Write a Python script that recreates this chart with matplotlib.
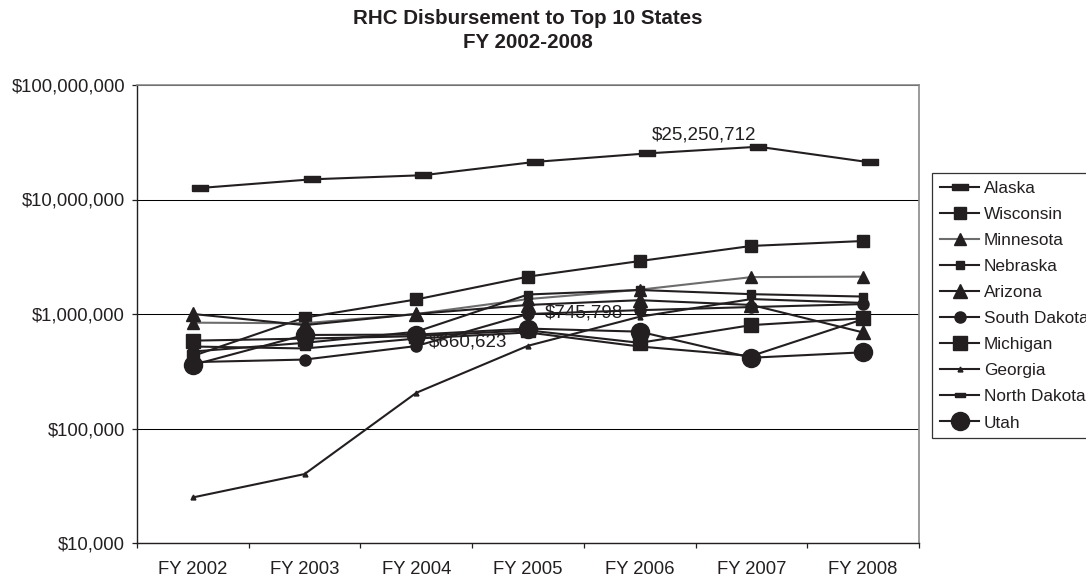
import matplotlib
matplotlib.use("Agg")
import matplotlib.pyplot as plt
from matplotlib.ticker import FuncFormatter, NullLocator, FixedLocator
from matplotlib.transforms import offset_copy

plt.rcParams['font.family'] = ['Liberation Sans', 'DejaVu Sans']

years = ["FY 2002", "FY 2003", "FY 2004", "FY 2005", "FY 2006", "FY 2007", "FY 2008"]

alaska = [12.6e6, 15.0e6, 16.3e6, 21.3e6, 25250712, 28.9e6, 21.1e6]
wisconsin = [430e3, 930e3, 1.34e6, 2.12e6, 2.90e6, 3.93e6, 4.34e6]
minnesota = [840e3, 830e3, 1.0e6, 1.35e6, 1.63e6, 2.10e6, 2.12e6]
nebraska = [470e3, 560e3, 700e3, 1.48e6, 1.62e6, 1.49e6, 1.42e6]
arizona = [1.0e6, 800e3, 1.0e6, 1.2e6, 1.32e6, 1.20e6, 690e3]
south_dakota = [380e3, 400e3, 525e3, 1.0e6, 1.08e6, 1.15e6, 1.22e6]
michigan = [585e3, 610e3, 640e3, 720e3, 560e3, 800e3, 917e3]
georgia = [25e3, 40e3, 205e3, 528e3, 947e3, 1.35e6, 1.25e6]
north_dakota = [520e3, 500e3, 610e3, 690e3, 520e3, 430e3, 900e3]
utah = [359e3, 656e3, 660623, 745798, 701e3, 415e3, 463e3]

ink = "#231f20"
dash_marker = [(-1, -0.42), (1, -0.42), (1, 0.42), (-1, 0.42), (-1, -0.42)]

series = [
    ("Alaska", alaska, dict(marker=dash_marker, ms=11.5, color=ink)),
    ("Wisconsin", wisconsin, dict(marker='s', ms=8, color=ink)),
    ("Minnesota", minnesota, dict(marker='^', ms=8, color="#6d6d6d", mfc=ink, mec=ink)),
    ("Nebraska", nebraska, dict(marker='s', ms=5.5, color=ink)),
    ("Arizona", arizona, dict(marker='^', ms=10, color=ink)),
    ("South Dakota", south_dakota, dict(marker='o', ms=8, color=ink)),
    ("Michigan", michigan, dict(marker='s', ms=9.5, color=ink)),
    ("Georgia", georgia, dict(marker='^', ms=3.5, color=ink)),
    ("North Dakota", north_dakota, dict(marker=dash_marker, ms=7, color=ink)),
    ("Utah", utah, dict(marker='o', ms=13, color=ink)),
]

fig = plt.figure(figsize=(10.86, 5.82), dpi=100)
ax = fig.add_axes([137/1086, 1-543/582, (919-137)/1086, (543-85)/582])

x = list(range(len(years)))
alaska_tr = offset_copy(ax.transData, fig=fig, x=7, y=0, units='dots')
handles = []
for name, vals, st in series:
    kw = dict(lw=1.5, label=name, zorder=3)
    kw.update(st)
    if name == "Alaska":
        kw['transform'] = alaska_tr
    h, = ax.plot(x, vals, **kw)
    handles.append(h)

ax.set_yscale('log')
ax.set_ylim(1e4, 1e8)
ax.set_xlim(-0.5, len(years) - 0.5)
ax.yaxis.set_major_locator(FixedLocator([1e4, 1e5, 1e6, 1e7, 1e8]))
ax.yaxis.set_minor_locator(NullLocator())
ax.yaxis.set_major_formatter(FuncFormatter(lambda v, p: f"${v:,.0f}"))
ax.set_xticks(x)
ax.set_xticklabels(years)
ax.set_xticks([i - 0.5 for i in range(len(years) + 1)], minor=True)
ax.tick_params(axis='x', which='major', length=0, pad=13, labelsize=13.3, labelcolor=ink)
ax.tick_params(axis='x', which='minor', length=3.6, width=0.9, color=ink, direction='out')
ax.tick_params(axis='y', which='major', length=3.6, width=0.9, color=ink, pad=5,
               labelsize=13.3, labelcolor=ink)

ax.grid(axis='y', which='major', color='black', lw=0.75, zorder=1)
ax.set_axisbelow(True)
for s in ['top', 'right']:
    ax.spines[s].set_color('#8a8a8a')
    ax.spines[s].set_linewidth(1.2)
for s in ['left', 'bottom']:
    ax.spines[s].set_color(ink)
    ax.spines[s].set_linewidth(1.0)

ax.annotate("$25,250,712", xy=(4, alaska[4]), xycoords=alaska_tr,
            xytext=(4, 13), textcoords='offset points', ha='left', va='center',
            fontsize=13.5, color=ink, zorder=5)
ax.annotate("$660,623", xy=(2, utah[2]), xytext=(9, -5), textcoords='offset points',
            ha='left', va='center', fontsize=13.5, color=ink, zorder=5)
ax.annotate("$745,798", xy=(3, utah[3]), xytext=(12, 11), textcoords='offset points',
            ha='left', va='center', fontsize=13.5, color=ink, zorder=5)

fig.text(528/1086, 1-19/582, "RHC Disbursement to Top 10 States", ha='center', va='center',
         fontsize=14.8, fontweight='bold', color=ink)
fig.text(528/1086, 1-43/582, "FY 2002-2008", ha='center', va='center',
         fontsize=14.8, fontweight='bold', color=ink)

leg = fig.legend(handles=handles, loc='upper left', bbox_to_anchor=(932/1086, 1-173/582),
                 bbox_transform=fig.transFigure, borderaxespad=0, frameon=True,
                 fancybox=False, edgecolor='black', fontsize=12.4, handlelength=2.3,
                 handletextpad=0.25, labelspacing=0.64, borderpad=0.45)
leg.get_frame().set_linewidth(0.9)
for t in leg.get_texts():
    t.set_color(ink)

fig.savefig("out.png", dpi=100)
